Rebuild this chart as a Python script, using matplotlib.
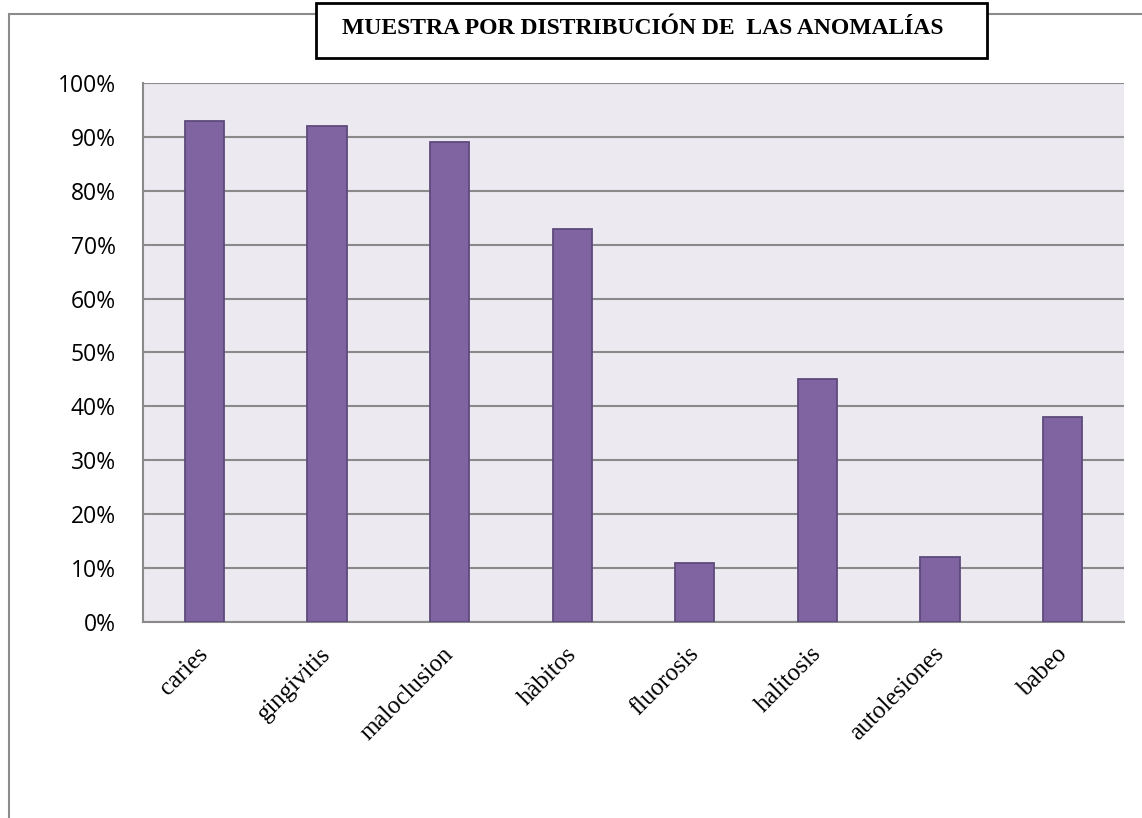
import matplotlib
matplotlib.use("Agg")
import matplotlib.pyplot as plt
from matplotlib.patches import Rectangle
from matplotlib.ticker import FuncFormatter, MultipleLocator
from matplotlib.transforms import ScaledTranslation

categories = ["caries", "gingivitis", "maloclusion", "hàbitos", "fluorosis",
              "halitosis", "autolesiones", "babeo"]
values = [0.93, 0.92, 0.89, 0.73, 0.11, 0.45, 0.12, 0.38]
title = "MUESTRA POR DISTRIBUCIÓN DE  LAS ANOMALÍAS"

W, H = 1142, 818
fig = plt.figure(figsize=(W / 100, H / 100), dpi=100)
fig.patch.set_facecolor("white")

def fx(px):
    return px / W

def fy(py):
    return 1 - py / H

# outer chart frame (extends beyond image right/bottom)
fig.add_artist(Rectangle((fx(9), fy(830)), fx(1150) - fx(9), fy(14) - fy(830),
                         transform=fig.transFigure, fill=False,
                         edgecolor="#8c8c8c", linewidth=1.5, clip_on=False))

ax = fig.add_axes([fx(143), fy(622), fx(1124) - fx(143), fy(83) - fy(622)])
ax.set_facecolor("#ECEAF0")
x = range(len(categories))
ax.bar(x, values, width=0.32, color="#8064A2", edgecolor="#5E4A7D",
       linewidth=1.3, zorder=3)
ax.set_xlim(-0.5, len(categories) - 0.5)
ax.set_ylim(0, 1.0)
ax.yaxis.set_major_locator(MultipleLocator(0.1))
ax.yaxis.set_major_formatter(FuncFormatter(lambda v, p: f"{v*100:.0f}%"))
ax.grid(axis="y", color="#8a8a8a", linewidth=1.5, zorder=1)
ax.set_axisbelow(True)
for s in ["top", "right"]:
    ax.spines[s].set_visible(False)
for s in ["left", "bottom"]:
    ax.spines[s].set_color("#8a8a8a")
    ax.spines[s].set_linewidth(1.5)
ax.tick_params(axis="both", length=0)
ax.tick_params(axis="y", pad=19.5, labelsize=16.5)
for lab in ax.get_yticklabels():
    lab.set_fontfamily("Open Sans")
    lab.set_color("black")
ax.set_xticks(list(x))
ax.set_xticklabels(categories, rotation=45, ha="right", rotation_mode="anchor",
                   fontfamily="Liberation Serif", fontsize=17.8)
ax.tick_params(axis="x", pad=15)
shift = ScaledTranslation(-7 / 100, 0, fig.dpi_scale_trans)
for lab in ax.get_xticklabels():
    lab.set_transform(lab.get_transform() + shift)

# title box
fig.add_artist(Rectangle((fx(316), fy(58)), fx(987) - fx(316), fy(3) - fy(58),
                         transform=fig.transFigure, facecolor="white",
                         edgecolor="black", linewidth=2, zorder=5))
fig.text(fx(643), fy(28), title, ha="center", va="center",
         fontfamily="Liberation Serif", fontweight="bold", fontsize=17,
         zorder=6)

fig.savefig("out.png", dpi=100)
